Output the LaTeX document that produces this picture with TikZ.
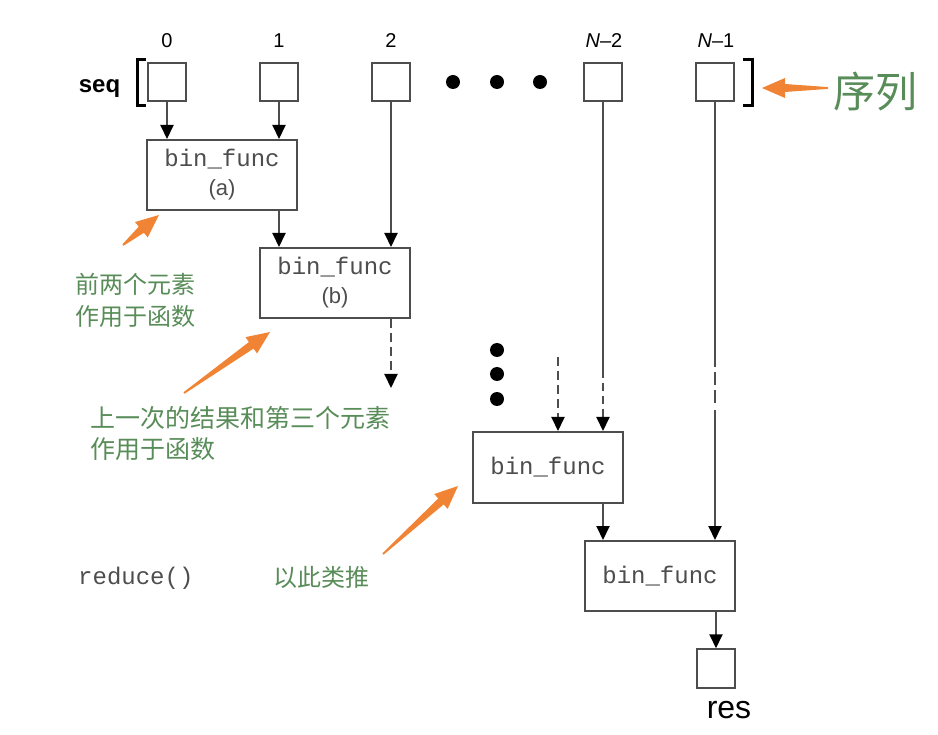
\documentclass[tikz,border=0pt]{standalone}
\usepackage{fontspec}
\setmainfont{Liberation Sans}
\setmonofont{Liberation Mono}
\newfontfamily\cjk{Noto Sans CJK SC}
\usetikzlibrary{arrows.meta,calc}
\definecolor{ln}{HTML}{4D4D4D}
\definecolor{gr}{RGB}{88,140,88}
\definecolor{og}{RGB}{240,132,52}
\newcommand\oarrow[2]{%
  \coordinate (oh) at ($(#2)!23pt!(#1)$);
  \fill[og] ($(#1)!0.9pt!90:(#2)$) -- ($(oh)!4pt!90:(#2)$) -- ($(oh)!10pt!90:(#2)$) -- (#2)
    -- ($(oh)!10pt!-90:(#2)$) -- ($(oh)!4pt!-90:(#2)$) -- ($(#1)!0.9pt!-90:(#2)$) -- cycle;}
\begin{document}
\begin{tikzpicture}[x=1pt,y=-1pt,
  cell/.style={draw=ln, line width=2pt, minimum size=38pt, inner sep=0pt},
  fbox/.style={draw=ln, line width=2pt, minimum width=150pt, minimum height=70pt, inner sep=0pt, align=center, text=ln, font=\fontsize{22}{29}\selectfont},
  arr/.style={draw=ln, line width=2pt, -{Triangle[width=13pt,length=14pt,black]}},
  dsh/.style={arr, dash pattern=on 9pt off 5pt},
  plain/.style={draw=ln, line width=2pt},
  idx/.style={font=\fontsize{20}{24}\selectfont, inner sep=0pt},
  cn/.style={text=gr, font=\cjk\fontsize{24}{32}\selectfont, inner sep=0pt, align=left, anchor=west},
  mono/.style={font=\ttfamily\fontsize{24}{28}\selectfont, text=ln, inner sep=0pt},
  bigdot/.style={circle, fill=black, minimum size=14pt, inner sep=0pt},
  brk/.style={draw=black, line width=3pt}
]
\useasboundingbox (0,0) rectangle (938,735);

% index labels
\node[idx] (l0) at (167,41) {0};
\node[idx] (l1) at (279,41) {1};
\node[idx] (l2) at (391,41) {2};
\node[idx] (l3) at (604,41) {{\itshape N}--2};
\node[idx] (l4) at (716,41) {{\itshape N}--1};

% sequence
\node[font=\bfseries\fontsize{24}{28}\selectfont, anchor=base, inner sep=0pt] (seq) at (99.5,93) {seq};
\draw[brk] (146,60) -- (137,60) -- (137,106) -- (146,106);
\draw[brk] (743,60) -- (752,60) -- (752,106) -- (743,106);
\node[cell] (s0) at (167,82) {};
\node[cell] (s1) at (279,82) {};
\node[cell] (s2) at (391,82) {};
\node[cell] (s3) at (603,82) {};
\node[cell] (s4) at (715,82) {};
\node[bigdot] (d1) at (453,82) {};
\node[bigdot] (d2) at (497,82) {};
\node[bigdot] (d3) at (540,82) {};

% function boxes
\node[fbox] (a) at (222,175) {\texttt{\fontsize{24}{29}\selectfont bin\_func}\\(a)};
\node[fbox] (b) at (335,283) {\texttt{\fontsize{24}{29}\selectfont bin\_func}\\(b)};
\node[fbox, minimum height=71pt] (c) at (548,467.5) {\texttt{\fontsize{24}{29}\selectfont bin\_func}};
\node[fbox] (d) at (660,576) {\texttt{\fontsize{24}{29}\selectfont bin\_func}};
\node[cell, minimum size=38.5pt] (res) at (716,668.5) {};
\node[font=\fontsize{32}{36}\selectfont, anchor=base, inner sep=0pt] (reslbl) at (729,718) {res};

% vertical dots
\node[bigdot] (v1) at (497,350) {};
\node[bigdot] (v2) at (497,374) {};
\node[bigdot] (v3) at (497,399) {};

% connectors
\draw[arr] (s0.south) -- (s0.south |- a.north);
\draw[arr] (s1.south) -- (s1.south |- a.north);
\draw[arr] (a.south -| s1) -- (s1 |- b.north);
\draw[arr] (s2.south) -- (s2.south |- b.north);
\coordinate (bend) at (391,388);
\draw[dsh] (b.south -| s2) -- (bend);
\coordinate (cin) at (558,357);
\draw[dsh] (cin) -- (cin |- c.north);
\coordinate (m3) at (603,370);
\draw[plain] (s3.south) -- (m3);
\draw[dsh, dash pattern=on 8pt off 5pt] (m3) -- (m3 |- c.north);
\coordinate (m4a) at (715,367);
\coordinate (m4b) at (715,372);
\coordinate (m4c) at (715,403);
\coordinate (m4d) at (715,410);
\draw[plain] (s4.south) -- (m4a);
\draw[plain, dash pattern=on 13pt off 5pt] (m4b) -- (m4c);
\draw[arr] (m4d) -- (m4d |- d.north);
\draw[arr] (c.south -| s3) -- (s3 |- d.north);
\draw[arr] (d.south -| res) -- (res.north);

% texts
\node[text=gr, font=\cjk\fontsize{42}{48}\selectfont, anchor=west, inner sep=0pt] (xl) at (833,92) {序列};
\node[cn] (t1) at (75,300) {前两个元素\\作用于函数};
\node[cn, font=\cjk\fontsize{25}{31}\selectfont] (t2) at (90,433.5) {上一次的结果和第三个元素\\作用于函数};
\node[cn] (t3) at (273,577) {以此类推};
\node[mono, anchor=west] (red) at (78,578) {reduce()};

% orange arrows
\coordinate (o1t) at (828,88); \coordinate (o1h) at (762,88);
\coordinate (o2t) at (123,245); \coordinate (o2h) at (159,215);
\coordinate (o3t) at (184,393); \coordinate (o3h) at (270,332);
\coordinate (o4t) at (383,554); \coordinate (o4h) at (458,486);
\oarrow{o1t}{o1h}
\oarrow{o2t}{o2h}
\oarrow{o3t}{o3h}
\oarrow{o4t}{o4h}
\end{tikzpicture}
\end{document}
